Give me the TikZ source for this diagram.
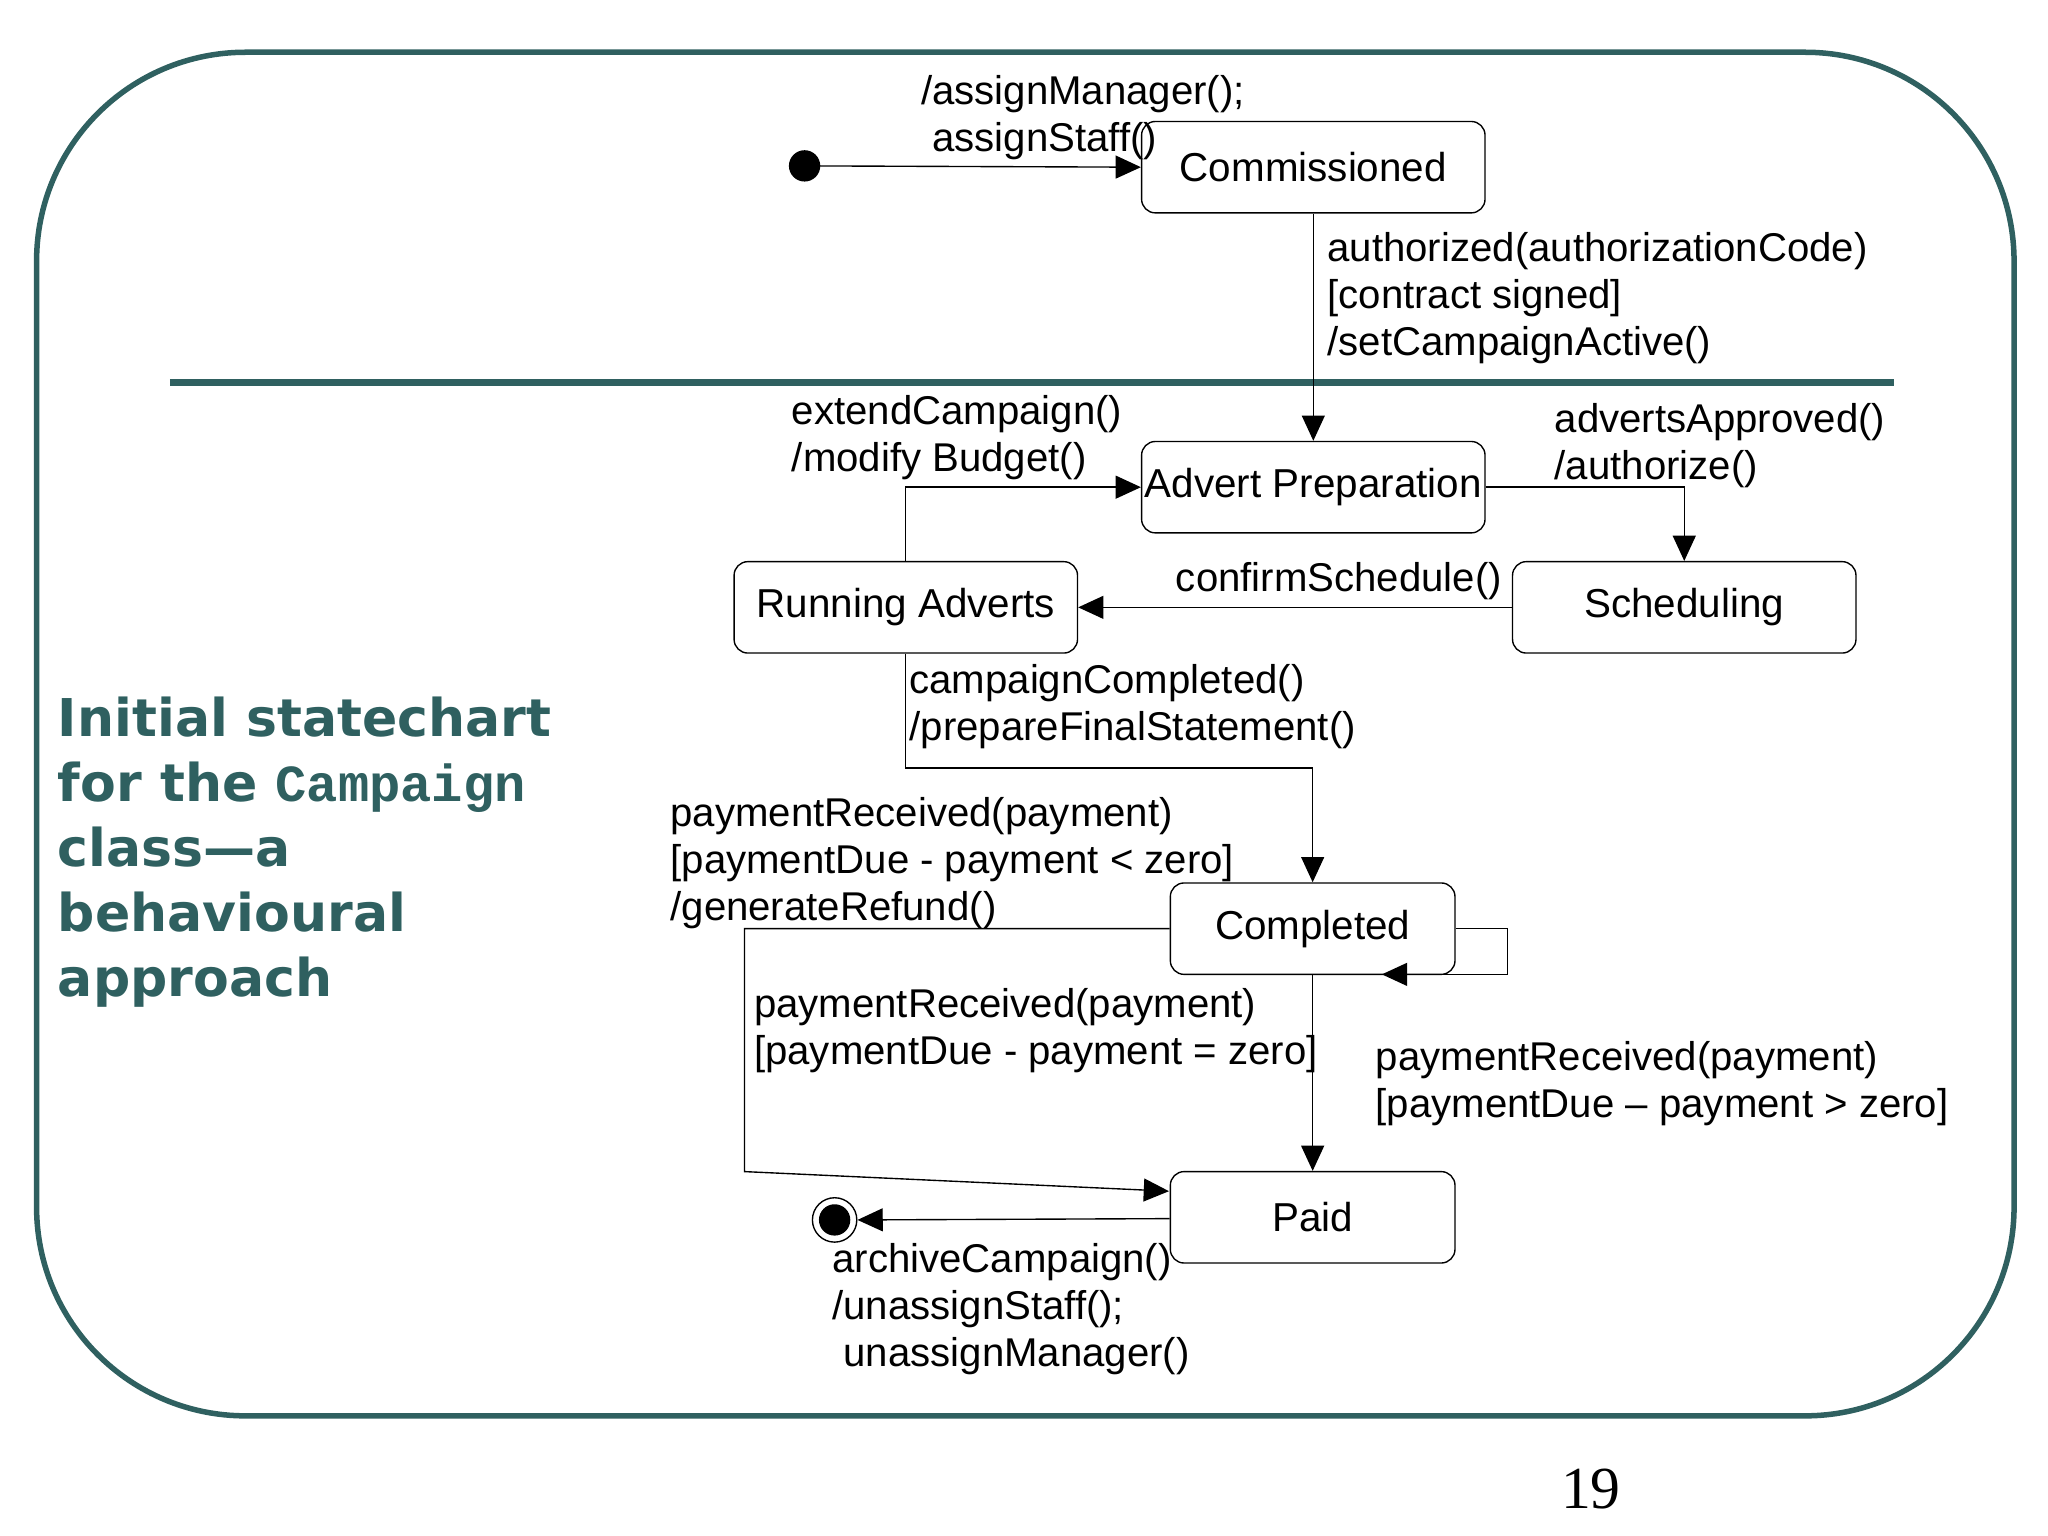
\documentclass[tikz,border=0pt]{standalone}
\usepackage{fontspec}
\setmainfont{Liberation Sans}
\newfontfamily\titlefont{DejaVu Sans}
\newfontfamily\titlemono{Liberation Mono}
\newfontfamily\numfont{Liberation Serif}
\usetikzlibrary{arrows.meta}
\definecolor{teal}{RGB}{47,96,96}
\begin{document}
\begin{tikzpicture}[x=0.02cm,y=-0.02cm,
  st/.style={draw,rounded corners=6pt,line width=0.6pt,minimum width=5.26cm,minimum height=1.4cm,inner sep=0pt,font=\fontsize{17.6}{20}\selectfont},
  lab/.style={anchor=west,inner sep=0pt,align=left,font=\fontsize{17.5}{20.5}\selectfont},
  tr/.style={draw,line width=0.6pt,-{Triangle[length=11pt,width=10pt]}}]
\useasboundingbox (0,0) rectangle (1568,1176);
\draw[teal,line width=2.4pt,rounded corners=3.2cm] (28,40) rectangle (1542,1084);
\draw[teal,line width=3pt] (130,293) -- (1450,293);
% nodes
\fill (616,127) circle (12) coordinate (init);
\node[st] (com) at (1005.5,128) {Commissioned};
\node[st] (adv) at (1005.5,373) {Advert Preparation};
\node[st] (sch) at (1289.5,465) {Scheduling};
\node[st] (run) at (693.5,465) {Running Adverts};
\node[st,minimum width=4.36cm] (cpl) at (1005,711) {Completed};
\node[st,minimum width=4.36cm] (paid) at (1005,932) {Paid};
\node[draw,circle,minimum size=0.68cm,inner sep=0pt,line width=0.6pt] (fin) at (639,934) {};
\fill (fin) circle (12);
\coordinate (loopa) at (1154,711);
\coordinate (loopb) at (1154,746);
\coordinate (loopc) at (1058,746);
\coordinate (refa) at (570,711);
\coordinate (refb) at (570,897);
\coordinate (refc) at (895,912);
% connectors
\draw[tr] (init) -- (com.west);
\draw[tr] (com) -- (adv);
\draw[tr] (adv.east) -| (sch.north);
\draw[tr] (sch.west) -- (run.east);
\draw[tr] (run.north) |- (adv.west);
\draw[tr] (run.south) |- (850,588) -| (cpl.north);
\draw[tr] (cpl.east) -- (loopa) -- (loopb) -- (loopc);
\draw[tr] (cpl.west) -- (refa) -- (refb) -- (refc);
\draw[tr] (cpl) -- (paid);
\draw[tr] (paid.west |- 0,933) -- (fin.east);
% labels
\node[lab] at (705,90) {/assignManager();\\ \ assignStaff()};
\node[lab] at (1016,228) {authorized(authorizationCode)\\{}[contract signed]\\/setCampaignActive()};
\node[lab] at (1190,341) {advertsApproved()\\/authorize()};
\node[lab] at (900,445) {confirmSchedule()};
\node[lab] at (606,335) {extendCampaign()\\/modify Budget()};
\node[lab] at (696,541) {campaignCompleted()\\/prepareFinalStatement()};
\node[lab] at (513,661) {paymentReceived(payment)\\{}[paymentDue - payment < zero]\\/generateRefund()};
\node[lab] at (577,789) {paymentReceived(payment)\\{}[paymentDue - payment = zero]};
\node[lab] at (1053,830) {paymentReceived(payment)\\{}[paymentDue – payment > zero]};
\node[lab] at (637,1002) {archiveCampaign()\\/unassignStaff();\\ \ unassignManager()};
% title
\node[anchor=north west,inner sep=0pt,align=left,text=teal,font=\titlefont\bfseries\fontsize{22.7}{28.4}\selectfont] at (44,533)
 {Initial statechart\\for the {\titlemono\bfseries Campaign}\\class—a\\behavioural\\approach};
\node[font=\numfont\fontsize{26}{30}\selectfont,inner sep=0pt] at (1218,1140) {19};
\end{tikzpicture}
\end{document}
